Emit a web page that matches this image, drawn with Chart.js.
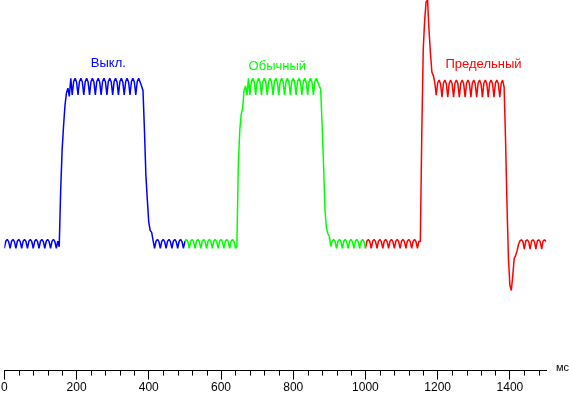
<!DOCTYPE html>
<html>
<head>
<meta charset="utf-8">
<script src="https://cdn.jsdelivr.net/npm/chart.js@4"></script>
<style>
    html, body { margin: 0; padding: 0; background: #fff; }
    canvas { display: block; }
</style>
</head>
<body>
<canvas id="grafico" width="569" height="396"></canvas>
<script>
// brightness (0..100, relative) sampled every 4 ms
const stepMs = 4;
const seriesNames = ["Выкл.", "Обычный", "Предельный"];
const seriesStartMs = [0, 500, 1000];
const seriesColors = ["#0000ff", "#00ff00", "#ff0000"];

const offValues = [
    33.0,34.9,35.4,34.8, 33.0,34.9,35.4,34.8, 33.0,34.9,35.4,34.8, 33.0,34.9,35.4,34.8,
    33.0,34.9,35.4,34.8, 33.0,34.9,35.4,34.8, 33.0,34.9,35.4,34.8, 33.0,34.9,35.4,34.8,
    33.0,34.9,35.4,34.8, 33.0,34.9, 33.4,
    48.6,59.5,66.0,71.6,74.9,76.2,74.0,78.9,
    74.4,78.0,78.9,77.9, 74.4,78.0,78.9,77.9, 74.4,78.0,78.9,77.9, 74.4,78.0,78.9,77.9,
    74.4,78.0,78.9,77.9, 74.4,78.0,78.9,77.9, 74.4,78.0,78.9,77.9, 74.4,78.0,78.9,77.9,
    74.4,78.0,78.9,77.9, 74.4,78.0,78.9,77.9, 74.4,78.0,78.9,77.9, 74.4,78.0,78.9,77.9,
    76.8,
    75.5,64.9,52.7,46.0,40.0,37.8,37.3,35.1,33.0,
    34.9,35.4,34.8,33.0, 34.9,35.4,34.8,33.0, 34.9,35.4,34.8,33.0, 34.9,35.4,34.8,33.0,
    34.9,35.4,34.8,33.0, 34.9
];

const normalValues = [
    34.9,35.4,34.8,33.0, 34.9,35.4,34.8,33.0, 34.9,35.4,34.8,33.0, 34.9,35.4,34.8,33.0,
    34.9,35.4,34.8,33.0, 34.9,35.4,34.8,33.0, 34.9,35.4,34.8,33.0, 34.9,35.4,34.8,33.0,
    34.9,35.4,34.8,33.0, 33.6,
    55.7,64.9,69.2,70.8,75.7,76.8,74.3,78.9,
    74.4,78.0,78.9,77.9, 74.4,78.0,78.9,77.9, 74.4,78.0,78.9,77.9, 74.4,78.0,78.9,77.9,
    74.4,78.0,78.9,77.9, 74.4,78.0,78.9,77.9, 74.4,78.0,78.9,77.9, 74.4,78.0,78.9,77.9,
    74.4,78.0,78.9,77.9, 74.4,78.0,78.9,77.9, 74.4,78.0,78.9,77.9, 74.4,78.0,78.9,77.9,
    76.8,
    76.0,66.2,55.4,43.2,38.4,37.0,36.2,33.5,
    34.9,35.4,34.8,33.0, 34.9,35.4,34.8,33.0, 34.9,35.4,34.8,33.0, 34.9,35.4,34.8,33.0,
    34.9,35.4,34.8,33.0, 34.9,35.4,34.8,33.0
];

const maxValues = [
    33.0,34.9,35.4,34.8, 33.0,34.9,35.4,34.8, 33.0,34.9,35.4,34.8, 33.0,34.9,35.4,34.8,
    33.0,34.9,35.4,34.8, 33.0,34.9,35.4,34.8, 33.0,34.9,35.4,34.8, 33.0,34.9,35.4,34.8,
    33.0,34.9,35.4,34.8, 33.0,34.9, 34.8,
    64.0,86.5,94.6,99.5,100,91.9,85.7,80.5,79.6,77.8,74.3,
    77.6,78.4,77.4,73.8, 77.6,78.4,77.4,73.8, 77.6,78.4,77.4,73.8, 77.6,78.4,77.4,73.8,
    77.6,78.4,77.4,73.8, 77.6,78.4,77.4,73.8, 77.6,78.4,77.4,73.8, 77.6,78.4,77.4,73.8,
    77.6,78.4,77.4,73.8, 77.6,78.4,77.4,73.8, 77.6,78.4,77.4,73.8,
    77.6,78.4,
    76.5,62.2,44.6,30.3,23.0,21.6,25.7,30.3,31.1,32.4,34.1,
    35.0,35.3,34.8,32.8, 35.0,35.3,34.8,32.8, 35.0,35.3,34.8,32.8, 35.0,35.3,34.8,32.8,
    35.0,35.3,34.8
];

const xTickValues = [0, 200, 400, 600, 800, 1000, 1200, 1400];
const xMax = 1500;
const xUnit = "мс";

// where each name is written, in chart units (ms, brightness)
const nameAnchors = [[288, 83], [756, 82.2], [1327, 82.7]];

function montarSerie(valores, inicio) {
    return valores.map((v, i) => ({ x: inicio + i * stepMs, y: v }));
}

const allValues = [offValues, normalValues, maxValues];

const extras = {
    id: "extras",
    afterDraw(chart) {
        const ctx = chart.ctx;
        const x = chart.scales.x;
        const y = chart.scales.y;
        const base = chart.chartArea.bottom;

        ctx.save();
        // minor ticks every 40 ms
        ctx.strokeStyle = "#000";
        ctx.lineWidth = 1;
        ctx.beginPath();
        for (let v = 40; v < xMax; v += 40) {
            if (v % 200 === 0) continue;
            const px = Math.round(x.getPixelForValue(v)) + 0.5;
            ctx.moveTo(px, base);
            ctx.lineTo(px, base + 5);
        }
        ctx.stroke();

        ctx.fillStyle = "#000";
        ctx.font = "11px 'Liberation Sans'";
        ctx.textBaseline = "middle";
        ctx.textAlign = "left";
        ctx.fillText(xUnit, x.right + 10, base - 3);

        ctx.font = "13px 'Liberation Sans'";
        ctx.textAlign = "center";
        seriesNames.forEach((nome, i) => {
            ctx.fillStyle = seriesColors[i];
            ctx.fillText(nome, x.getPixelForValue(nameAnchors[i][0]), y.getPixelForValue(nameAnchors[i][1]));
        });
        ctx.restore();
    }
};

new Chart(document.getElementById("grafico").getContext("2d"), {
    type: "line",
    data: {
        datasets: seriesNames.map((nome, i) => ({
            label: nome,
            data: montarSerie(allValues[i], seriesStartMs[i]),
            borderColor: seriesColors[i],
            borderWidth: 1.5,
            borderJoinStyle: "bevel",
            pointRadius: 0,
            tension: 0,
            fill: false
        }))
    },
    options: {
        responsive: false,
        animation: false,
        devicePixelRatio: 1,
        layout: { padding: { left: 4, right: 23, top: 0, bottom: 0 } },
        plugins: {
            legend: { display: false },
            tooltip: { enabled: false }
        },
        scales: {
            x: {
                type: "linear",
                min: 0,
                max: xMax,
                afterBuildTicks: (scale) => {
                    scale.ticks = xTickValues.map(v => ({ value: v }));
                },
                grid: {
                    drawOnChartArea: false,
                    color: "#000",
                    tickLength: 9
                },
                border: { color: "#000", width: 1 },
                ticks: {
                    color: "#000",
                    padding: 1,
                    maxRotation: 0,
                    autoSkip: false,
                    font: { family: "Liberation Sans", size: 12 },
                    callback: (v) => String(v)
                }
            },
            y: {
                display: false,
                min: 0,
                max: 100
            }
        }
    },
    plugins: [extras]
});
</script>
</body>
</html>
